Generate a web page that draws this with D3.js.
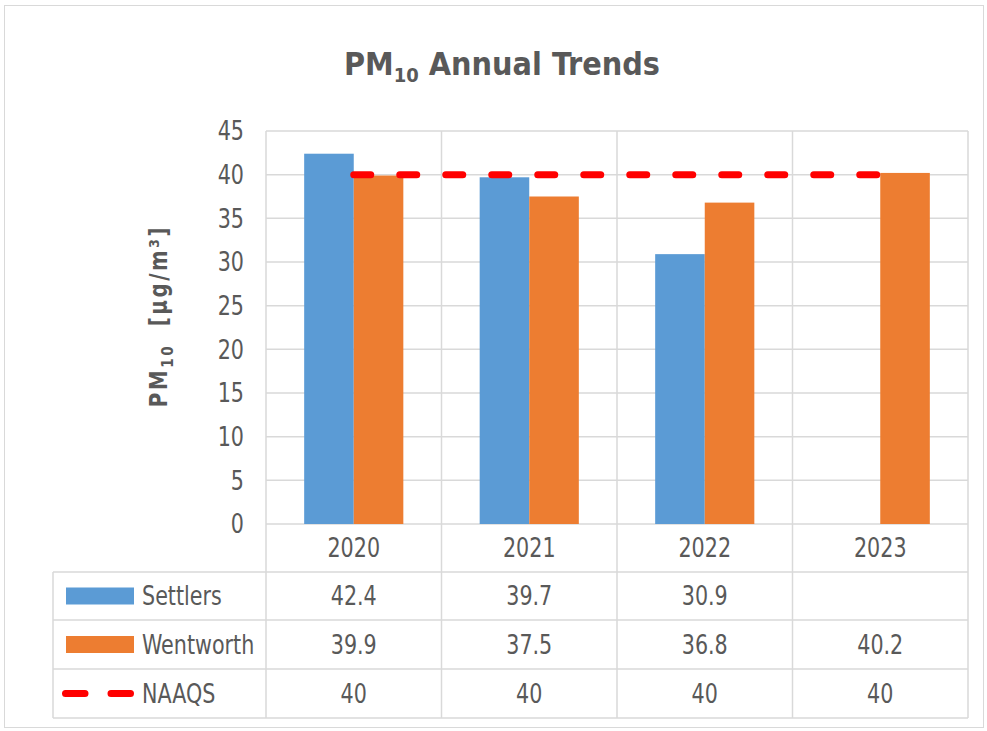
<!DOCTYPE html>
<html>
<head>
<meta charset="utf-8">
<script src="https://cdn.jsdelivr.net/npm/d3@7"></script>
<style>
  body { margin: 0; background: #fff; }
  text { font-family: "DejaVu Sans Condensed", "Open Sans", sans-serif; fill: #595959; }
</style>
</head>
<body>
<svg id="chart" width="987" height="731"></svg>
<script>
// data
var years = ["2020", "2021", "2022", "2023"];
var settlers = [42.4, 39.7, 30.9, null];
var wentworth = [39.9, 37.5, 36.8, 40.2];
var naaqs = [40, 40, 40, 40];
var yTicks = [0, 5, 10, 15, 20, 25, 30, 35, 40, 45];
var seriesNames = ["Settlers", "Wentworth"];

var svg = d3.select("#chart");

// frame
svg.append("rect")
    .attr("x", 4.5).attr("y", 5.5)
    .attr("width", 979).attr("height", 722)
    .attr("fill", "#fff")
    .attr("stroke", "#d9d9d9");

var plotLeft = 266, plotRight = 968, plotTop = 131, plotBottom = 524;

var x = d3.scaleBand()
    .domain(years)
    .range([plotLeft, plotRight])
    .padding(0);

var xInner = d3.scaleBand()
    .domain(seriesNames)
    .range([0, x.bandwidth()])
    .paddingInner(0)
    .paddingOuter(0.77);

var y = d3.scaleLinear()
    .domain([0, 45])
    .range([plotBottom, plotTop]);

// small text looks a bit tall & narrow in the original, stretch it
function label(g, px, py, str, anchor) {
    return g.append("text")
        .attr("transform", "translate(" + px + "," + py + ") scale(1,1.12)")
        .attr("dy", "0.36em")
        .attr("text-anchor", anchor || "start")
        .attr("font-size", 23)
        .text(str);
}

// horizontal grid
svg.append("g")
    .selectAll("line.grid")
    .data(yTicks)
    .enter()
    .append("line")
    .attr("x1", plotLeft).attr("x2", plotRight)
    .attr("y1", function(d) { return y(d); })
    .attr("y2", function(d) { return y(d); })
    .attr("stroke", "#d9d9d9")
    .attr("stroke-width", 1.5);

// vertical category lines (extend down through year row)
var bounds = years.map(function(d) { return x(d); }).concat([plotRight]);
svg.append("g")
    .selectAll("line.vgrid")
    .data(bounds)
    .enter()
    .append("line")
    .attr("x1", function(d) { return d; })
    .attr("x2", function(d) { return d; })
    .attr("y1", plotTop)
    .attr("y2", 572)
    .attr("stroke", "#d9d9d9")
    .attr("stroke-width", 1.5);

// y tick labels
var yt = svg.append("g");
yTicks.forEach(function(d) { label(yt, 244, y(d), d, "end"); });

// bars
var colors = { Settlers: "#5b9bd5", Wentworth: "#ed7d31" };
var values = { Settlers: settlers, Wentworth: wentworth };

seriesNames.forEach(function(s) {
    svg.append("g")
        .selectAll("rect")
        .data(years.map(function(yr, i) { return { year: yr, v: values[s][i] }; })
            .filter(function(d) { return d.v != null; }))
        .enter()
        .append("rect")
        .attr("x", function(d) { return x(d.year) + xInner(s); })
        .attr("width", xInner.bandwidth())
        .attr("y", function(d) { return y(d.v); })
        .attr("height", function(d) { return y(0) - y(d.v); })
        .attr("fill", colors[s]);
});

// NAAQS line
var line = d3.line()
    .x(function(d, i) { return x(years[i]) + x.bandwidth() / 2; })
    .y(function(d) { return y(d); });

svg.append("path")
    .datum(naaqs)
    .attr("d", line)
    .attr("fill", "none")
    .attr("stroke", "#ff0000")
    .attr("stroke-width", 7)
    .attr("stroke-linecap", "round")
    .attr("stroke-dasharray", "17,29");

// year labels
var yrs = svg.append("g");
years.forEach(function(d) { label(yrs, x(d) + x.bandwidth() / 2, 548, d, "middle"); });

// data table
var tableLeft = 53, rowTops = [572, 620, 669, 718];
var grid = svg.append("g").attr("stroke", "#d9d9d9").attr("stroke-width", 1.5);
rowTops.forEach(function(ry) {
    grid.append("line").attr("x1", tableLeft).attr("x2", plotRight).attr("y1", ry).attr("y2", ry);
});
bounds.concat([tableLeft]).forEach(function(bx) {
    grid.append("line").attr("x1", bx).attr("x2", bx).attr("y1", rowTops[0]).attr("y2", rowTops[3]);
});

var rows = [
    { name: "Settlers", vals: settlers, type: "bar", color: colors.Settlers },
    { name: "Wentworth", vals: wentworth, type: "bar", color: colors.Wentworth },
    { name: "NAAQS", vals: naaqs, type: "line", color: "#ff0000" }
];

rows.forEach(function(r, i) {
    var cy = (rowTops[i] + rowTops[i + 1]) / 2;
    if (r.type === "bar") {
        svg.append("rect")
            .attr("x", 66).attr("y", cy - 8.5)
            .attr("width", 68).attr("height", 17)
            .attr("fill", r.color);
    } else {
        svg.append("line")
            .attr("x1", 65.5).attr("x2", 131)
            .attr("y1", cy).attr("y2", cy)
            .attr("stroke", r.color)
            .attr("stroke-width", 7)
            .attr("stroke-linecap", "round")
            .attr("stroke-dasharray", "19.5,26");
    }
    var g = svg.append("g");
    label(g, 142, cy, r.name);
    r.vals.forEach(function(d, j) {
        if (d != null) label(g, x(years[j]) + x.bandwidth() / 2, cy, d, "middle");
    });
});

// title
var title = svg.append("text")
    .attr("x", 502).attr("y", 75)
    .attr("text-anchor", "middle")
    .attr("font-size", 32)
    .attr("font-weight", "bold");
title.append("tspan").text("PM");
title.append("tspan").attr("font-size", 20).attr("dy", 7).text("10");
title.append("tspan").attr("dy", -7).text(" Annual Trends");

// y axis label
var yl = svg.append("text")
    .attr("transform", "translate(167,316) rotate(-90) scale(1,1.1)")
    .attr("text-anchor", "middle")
    .attr("font-size", 22)
    .attr("letter-spacing", 2.6)
    .attr("font-weight", "bold");
yl.append("tspan").text("PM");
yl.append("tspan").attr("font-size", 15).attr("dy", 5).text("10");
yl.append("tspan").attr("dy", -5).attr("dx", 8).text(" [µg/m³]");
</script>
</body>
</html>
